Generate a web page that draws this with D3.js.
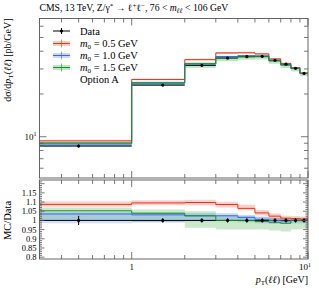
<!DOCTYPE html>
<html><head><meta charset="utf-8">
<script src="https://cdn.jsdelivr.net/npm/d3@7/dist/d3.min.js"></script>
<style>body{margin:0;background:#fff}svg{display:block}text{font-family:"Liberation Serif","DejaVu Serif",serif;fill:#000}</style>
</head><body>
<svg id="c" width="319" height="288"></svg>
<script>
const binEdges = [0,1,2,3,4,5,6,7,8,9,10];
const binCenters = [0.5,1.5,2.5,3.5,4.5,5.5,6.5,7.5,8.5,9.5];
const dataVals = [8.6,23.1,31.8,35.8,36.6,36.8,34.5,32.4,30.3,27.9];
const dataErr = [0.025,0.012,0.012,0.012,0.012,0.012,0.012,0.012,0.012,0.012];
const redVals = [9.35,25.3,34.9,38.9,39.0,38.3,35.3,32.8,30.6,28.1];
const blueVals = [8.9,23.8,32.6,36.7,37.2,37.0,34.5,32.3,30.3,27.9];
const greenVals = [9.05,24.0,32.6,35.8,36.6,36.6,34.15,31.9,30.3,27.9];
const redLo = [1.075,1.083,1.083,1.07,1.055,1.027,1.008,0.998,0.996,0.993];
const redHi = [1.105,1.11,1.112,1.102,1.085,1.057,1.038,1.026,1.024,1.021];
const blueLo = [0.985,0.99,0.995,0.995,0.99,0.985,0.98,0.98,0.985,0.985];
const blueHi = [1.045,1.045,1.04,1.04,1.03,1.02,1.015,1.01,1.01,1.01];
const greenLo = [1.0,0.99,0.96,0.95,0.95,0.95,0.945,0.94,0.95,0.955];
const greenHi = [1.07,1.06,1.05,1.03,1.025,1.02,1.015,1.01,1.015,1.015];
const series = [
  {name:"0.5", vals:redVals, lo:redLo, hi:redHi, color:"#EE3311"},
  {name:"1.0", vals:blueVals, lo:blueLo, hi:blueHi, color:"#3366FF"},
  {name:"1.5", vals:greenVals, lo:greenLo, hi:greenHi, color:"#109618"}
];
const ratioTicks = [0.8,0.85,0.9,0.95,1,1.05,1.1,1.15];

const svg = d3.select("#c");
const L=39.5, R=308, T1=18.5, B1=178, T2=180, B2=259;
const x = d3.scaleLog().domain([0.3,10]).range([L,R]);
const y = d3.scaleLog().domain([5.12,68]).range([B1,T1]);
const yr = d3.scaleLinear().domain([0.79,1.22]).range([B2,T2]);
const xe = e => x(Math.max(e,0.3));

function stepPts(vals){ const p = vals.map((v,i)=>[binEdges[i],v]); p.push([binEdges[10],vals[9]]); return p; }

svg.append("clipPath").attr("id","cu").append("rect").attr("x",L).attr("y",T1).attr("width",R-L).attr("height",B1-T1);
svg.append("clipPath").attr("id","cr").append("rect").attr("x",L).attr("y",T2).attr("width",R-L).attr("height",B2-T2);

const gU = svg.append("g").attr("clip-path","url(#cu)");
const gR = svg.append("g").attr("clip-path","url(#cr)");

series.slice().reverse().forEach(s=>{
  const pts = binEdges.map((e,i)=>{const k=Math.min(i,9); return {e, lo:dataVals[k]*s.lo[k], hi:dataVals[k]*s.hi[k]};});
  gU.append("path").attr("d", d3.area().curve(d3.curveStepAfter).x(d=>xe(d.e)).y0(d=>y(d.lo)).y1(d=>y(d.hi))(pts))
    .attr("fill",s.color).attr("fill-opacity",0.25);
  const rpts = binEdges.map((e,i)=>{const k=Math.min(i,9); return {e, lo:s.lo[k], hi:s.hi[k]};});
  gR.append("path").attr("d", d3.area().curve(d3.curveStepAfter).x(d=>xe(d.e)).y0(d=>yr(d.lo)).y1(d=>yr(d.hi))(rpts))
    .attr("fill",s.color).attr("fill-opacity",0.22);
});
const lineU = d3.line().curve(d3.curveStepAfter).x(d=>xe(d[0])).y(d=>y(d[1]));
const lineR = d3.line().curve(d3.curveStepAfter).x(d=>xe(d[0])).y(d=>yr(d[1]));
dataVals.forEach((v,i)=>{
  gU.append("line").attr("x1",xe(binEdges[i])).attr("x2",xe(binEdges[i+1])).attr("y1",y(v)).attr("y2",y(v)).attr("stroke","#000").attr("stroke-width",1);
});
gR.append("line").attr("x1",L).attr("x2",R).attr("y1",yr(1)).attr("y2",yr(1)).attr("stroke","#000").attr("stroke-width",1);
series.forEach(s=>{
  gU.append("path").attr("d",lineU(stepPts(s.vals))).attr("fill","none").attr("stroke",s.color).attr("stroke-width",1);
  gR.append("path").attr("d",lineR(stepPts(s.vals.map((v,i)=>v/dataVals[i])))).attr("fill","none").attr("stroke",s.color).attr("stroke-width",1);
});
dataVals.forEach((v,i)=>{
  const cx = x(binCenters[i]);
  gU.append("line").attr("x1",cx).attr("x2",cx).attr("y1",y(v*(1-dataErr[i]))).attr("y2",y(v*(1+dataErr[i]))).attr("stroke","#000").attr("stroke-width",1);
  gU.append("circle").attr("cx",cx).attr("cy",y(v)).attr("r",1.6).attr("fill","#000");
  gR.append("line").attr("x1",cx).attr("x2",cx).attr("y1",yr(1-dataErr[i])).attr("y2",yr(1+dataErr[i])).attr("stroke","#000").attr("stroke-width",1);
  gR.append("circle").attr("cx",cx).attr("cy",yr(1)).attr("r",1.6).attr("fill","#000");
});

[[T1,B1],[T2,B2]].forEach(([t,b])=>{
  svg.append("rect").attr("x",L).attr("y",t).attr("width",R-L).attr("height",b-t).attr("fill","none").attr("stroke","#555").attr("stroke-width",0.9);
});
const tk = svg.append("g").attr("stroke","#555").attr("stroke-width",0.8);
const xMinor = [0.4,0.5,0.6,0.7,0.8,0.9,2,3,4,5,6,7,8,9];
const xMajor = [1,10];
[[T1,B1],[T2,B2]].forEach(([t,b])=>{
  xMinor.forEach(v=>{const px=x(v); tk.append("line").attr("x1",px).attr("x2",px).attr("y1",t).attr("y2",t+4); tk.append("line").attr("x1",px).attr("x2",px).attr("y1",b).attr("y2",b-4);});
  xMajor.forEach(v=>{const px=x(v); tk.append("line").attr("x1",px).attr("x2",px).attr("y1",t).attr("y2",t+7); tk.append("line").attr("x1",px).attr("x2",px).attr("y1",b).attr("y2",b-7);});
});
const yMinor = [6,7,8,9,20,30,40,50,60];
yMinor.forEach(v=>{const py=y(v); tk.append("line").attr("x1",L).attr("x2",L+4).attr("y1",py).attr("y2",py); tk.append("line").attr("x1",R).attr("x2",R-4).attr("y1",py).attr("y2",py);});
[10].forEach(v=>{const py=y(v); tk.append("line").attr("x1",L).attr("x2",L+7).attr("y1",py).attr("y2",py); tk.append("line").attr("x1",R).attr("x2",R-7).attr("y1",py).attr("y2",py);});
d3.range(80,122).forEach(k=>{const v=k/100; const py=yr(v); const len = (k%5===0)?5:2.5;
  tk.append("line").attr("x1",L).attr("x2",L+len).attr("y1",py).attr("y2",py);
  tk.append("line").attr("x1",R).attr("x2",R-len).attr("y1",py).attr("y2",py);});

const fs = 10;
const t10 = svg.append("text").attr("x",L-3).attr("y",y(10)+3).attr("text-anchor","end").attr("font-size",9);
t10.append("tspan").text("10");
t10.append("tspan").attr("dy",-3.5).attr("font-size",6).text("1");
ratioTicks.forEach(v=>{
  svg.append("text").attr("x",L-3).attr("y",yr(v)+3).attr("text-anchor","end").attr("font-size",8.5).text(d3.format("")(v));
});
svg.append("text").attr("x",x(1)).attr("y",270).attr("text-anchor","middle").attr("font-size",9).text("1");
const tx10 = svg.append("text").attr("x",x(10)+3).attr("y",270).attr("text-anchor","end").attr("font-size",9);
tx10.append("tspan").text("10");
tx10.append("tspan").attr("dy",-3.5).attr("font-size",6).text("1");

const tt = svg.append("text").attr("x",L).attr("y",11).attr("font-size",9.7);
tt.append("tspan").text("CMS, 13 TeV, Z/γ");
tt.append("tspan").attr("dy",-3).attr("font-size",7).text("*");
tt.append("tspan").attr("dy",3).text(" → ℓ");
tt.append("tspan").attr("dy",-3).attr("font-size",7).text("+");
tt.append("tspan").attr("dy",3).text("ℓ");
tt.append("tspan").attr("dy",-3).attr("font-size",7).text("−");
tt.append("tspan").attr("dy",3).text(", 76 < ");
tt.append("tspan").attr("font-style","italic").text("m");
tt.append("tspan").attr("dy",2).attr("font-size",7).attr("font-style","italic").text("ℓℓ");
tt.append("tspan").attr("dy",-2).text(" < 106 GeV");

const yl = svg.append("text").attr("transform",`translate(11,${T1}) rotate(-90)`).attr("text-anchor","end").attr("font-size",fs);
yl.append("tspan").text("dσ/d");
yl.append("tspan").attr("font-style","italic").text("p");
yl.append("tspan").attr("dy",2).attr("font-size",7).text("T");
yl.append("tspan").attr("dy",-2).text("(");
yl.append("tspan").attr("font-style","italic").text("ℓℓ");
yl.append("tspan").text(") [pb/GeV]");
svg.append("text").attr("transform",`translate(11,${(T2+B2)/2+1}) rotate(-90)`).attr("text-anchor","middle").attr("font-size",10.5).text("MC/Data");
const xl = svg.append("text").attr("x",R).attr("y",283).attr("text-anchor","end").attr("font-size",fs);
xl.append("tspan").attr("font-style","italic").text("p");
xl.append("tspan").attr("dy",2).attr("font-size",7).text("T");
xl.append("tspan").attr("dy",-2).text("(");
xl.append("tspan").attr("font-style","italic").text("ℓℓ");
xl.append("tspan").text(") [GeV]");

const lx0=53, lx1=70, lxm=61.5, ltx=80;
const legY = [31,43.5,55.5,67.5];
svg.append("line").attr("x1",lx0).attr("x2",lx1).attr("y1",legY[0]).attr("y2",legY[0]).attr("stroke","#000");
svg.append("line").attr("x1",lxm).attr("x2",lxm).attr("y1",legY[0]-3).attr("y2",legY[0]+3).attr("stroke","#000");
svg.append("circle").attr("cx",lxm).attr("cy",legY[0]).attr("r",1.6).attr("fill","#000");
svg.append("text").attr("x",ltx).attr("y",legY[0]+3.5).attr("font-size",10.5).text("Data");
series.forEach((s,i)=>{
  const ly = legY[i+1];
  svg.append("rect").attr("x",lx0).attr("y",ly-2.5).attr("width",lx1-lx0).attr("height",5).attr("fill",s.color).attr("fill-opacity",0.25);
  svg.append("line").attr("x1",lx0).attr("x2",lx1).attr("y1",ly).attr("y2",ly).attr("stroke",s.color);
  svg.append("line").attr("x1",lxm).attr("x2",lxm).attr("y1",ly-4).attr("y2",ly+4).attr("stroke",s.color).attr("stroke-opacity",0.6);
  const t = svg.append("text").attr("x",ltx).attr("y",ly+3.5).attr("font-size",10.5);
  t.append("tspan").attr("font-style","italic").text("m");
  t.append("tspan").attr("dy",2).attr("font-size",7).text("0");
  t.append("tspan").attr("dy",-2).text(" = " + s.name + " GeV");
});
svg.append("text").attr("x",ltx).attr("y",legY[3]+15.5).attr("font-size",10.5).text("Option A");
</script>
</body></html>
